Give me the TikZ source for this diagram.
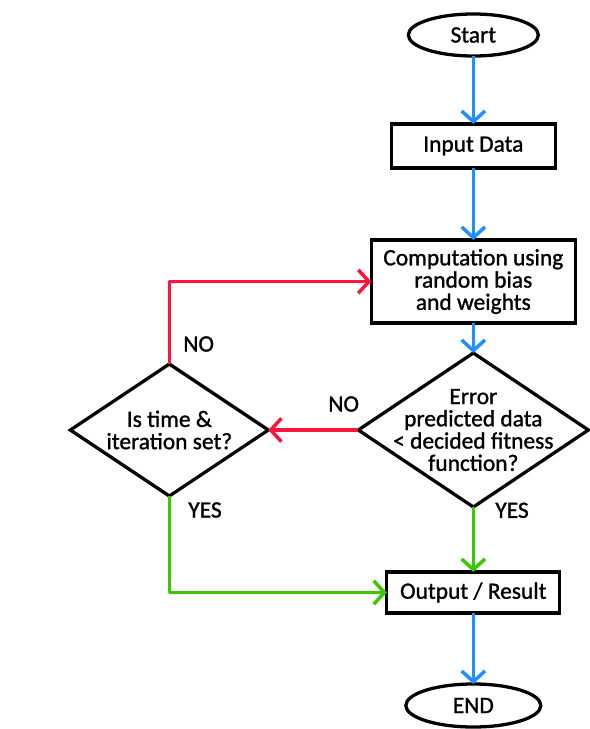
\documentclass[tikz,border=0pt]{standalone}
\usepackage{fontspec}
\setmainfont{Carlito}[UprightFeatures={FakeBold=1.2}]
\usetikzlibrary{shapes.geometric,positioning,calc,arrows.meta}
\definecolor{flowblue}{RGB}{30,144,255}
\definecolor{flowred}{RGB}{255,20,60}
\definecolor{flowgreen}{RGB}{60,200,0}

\begin{document}
\begin{tikzpicture}[
    every node/.style={font=\fontsize{20}{19}\selectfont, outer sep=0pt},
    terminal/.style={ellipse, draw, line width=2.8pt, inner sep=0pt,
                     minimum width=3.9cm, minimum height=1.26cm},
    process/.style={rectangle, draw, line width=2.8pt, align=center, inner sep=0pt},
    decision/.style={diamond, draw, line width=2.8pt, align=center, shape aspect=1.5,
                     inner xsep=-0.6cm, inner ysep=-0.5cm},
    tag/.style={anchor=west, inner sep=0pt},
    flow/.style={-{Straight Barb[length=3.2mm,width=7mm]}, line width=3pt, line join=round},
]
\useasboundingbox (0,0) rectangle (17.7,-21.87);
\node[terminal] (start) at (14.2,-1.05) {Start};
\node[process, minimum width=4.92cm, minimum height=1.32cm, below=2.04cm of start] (input) {Input Data};
\node[process, minimum width=6.12cm, minimum height=2.49cm, below=2.16cm of input] (comp) {Computation using\\random bias\\and weights};
\node[decision, minimum width=6.9cm, minimum height=4.62cm, below=0.9cm of comp] (errchk) {Error\\predicted data\\< decided fitness\\function?};
\node[decision, minimum width=5.94cm, minimum height=3.96cm, left=2.7cm of errchk] (timechk) {Is time \&\\iteration set?};
\node[process, minimum width=5.19cm, minimum height=1.23cm, below=1.95cm of errchk] (output) {Output / Result};
\node[terminal, minimum width=4.05cm, minimum height=1.29cm, below=2.13cm of output] (finish) {END};
\node[tag] (nomid) at ($(errchk.west)+(-0.9,0.78)$) {NO};
\node[tag] (noloop) at ($(timechk.north)+(0.42,0.6)$) {NO};
\node[tag] (yesleft) at ($(timechk.south)+(0.57,-0.42)$) {YES};
\node[tag] (yesright) at ($(errchk.south)+(0.66,-0.1)$) {YES};
\draw[flow, flowblue] (start) -- (input);
\draw[flow, flowblue] (input) -- (comp);
\draw[flow, flowblue] (comp) -- (errchk);
\draw[flow, flowred] (errchk) -- (timechk);
\draw[flow, flowred] (timechk.north) |- (comp.west);
\draw[flow, flowgreen] (timechk.south) |- (output.west);
\draw[flow, flowgreen] (errchk) -- (output);
\draw[flow, flowblue] (output) -- (finish);
\end{tikzpicture}
\end{document}
